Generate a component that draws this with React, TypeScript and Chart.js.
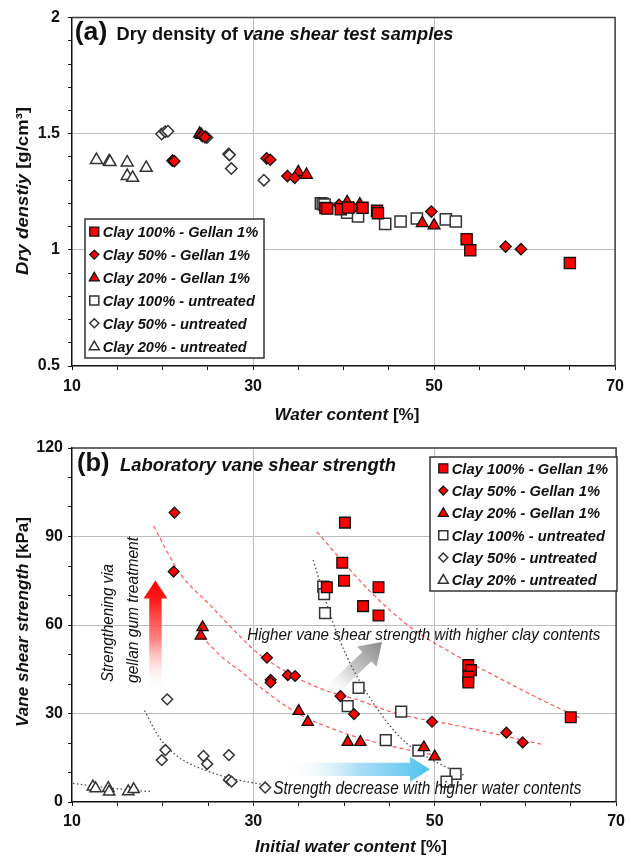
import React, { useEffect, useRef } from 'react';
import { Chart, registerables } from 'chart.js';

Chart.register(...registerables);

type Pt = [number, number];

// ---------- labels ----------
const seriesLabels = [
  'Clay 100% - Gellan 1%',
  'Clay 50% - Gellan 1%',
  'Clay 20% - Gellan 1%',
  'Clay 100% - untreated',
  'Clay 50% - untreated',
  'Clay 20% - untreated',
];
const waterTicks = [10, 30, 50, 70];
const densityTicks = [0.5, 1, 1.5, 2];
const strengthTicks = [0, 30, 60, 90, 120];

// ---------- (a) water content [%] vs dry density [g/cm3] ----------
const densClay100Gellan: Pt[] = [[38.0, 1.18], [38.2, 1.178], [39.7, 1.175], [40.5, 1.182], [42.1, 1.181], [43.7, 1.168], [43.8, 1.158], [53.6, 1.046], [54.0, 0.998], [65.0, 0.943]];
const densClay50Gellan: Pt[] = [[21.1, 1.384], [21.3, 1.382], [24.4, 1.49], [24.7, 1.485], [31.5, 1.394], [31.9, 1.388], [33.8, 1.318], [34.6, 1.31], [39.5, 1.194], [41.1, 1.181], [49.7, 1.165], [57.9, 1.014], [59.6, 1.003]];
const densClay20Gellan: Pt[] = [[24.1, 1.5], [24.3, 1.495], [35.0, 1.334], [35.9, 1.323], [40.4, 1.205], [41.8, 1.195], [48.7, 1.115], [50.0, 1.105]];
const densClay100Untreated: Pt[] = [[37.5, 1.2], [37.7, 1.198], [37.9, 1.195], [40.4, 1.16], [41.6, 1.144], [44.6, 1.112], [46.3, 1.122], [48.1, 1.135], [51.3, 1.131], [52.4, 1.122]];
const densClay50Untreated: Pt[] = [[19.9, 1.499], [20.3, 1.509], [20.6, 1.511], [24.7, 1.487], [24.9, 1.484], [27.3, 1.413], [27.4, 1.409], [27.6, 1.35], [31.2, 1.3]];
const densClay20Untreated: Pt[] = [[12.7, 1.387], [14.1, 1.381], [14.2, 1.378], [16.1, 1.376], [16.1, 1.318], [16.7, 1.31], [18.2, 1.353]];

// ---------- (b) initial water content [%] vs vane shear strength [kPa] ----------
const vaneClay100Gellan: Pt[] = [[38.1, 72.8], [39.8, 81.1], [40.0, 75.0], [40.1, 94.7], [42.1, 66.4], [43.8, 72.8], [43.8, 63.2], [53.7, 46.4], [54.0, 44.7], [53.7, 42.5], [53.7, 40.5], [65.0, 28.7]];
const vaneClay50Gellan: Pt[] = [[21.3, 98.1], [21.2, 78.1], [31.5, 48.9], [31.9, 41.4], [31.9, 40.5], [33.8, 43.0], [34.6, 42.7], [39.6, 35.9], [41.1, 29.8], [49.7, 27.2], [57.9, 23.5], [59.7, 20.2]];
const vaneClay20Gellan: Pt[] = [[24.4, 59.2], [24.2, 56.3], [35.0, 30.8], [36.0, 27.1], [40.4, 20.3], [41.8, 20.3], [48.8, 18.5], [50.0, 15.4]];
const vaneClay100Untreated: Pt[] = [[37.7, 73.0], [37.8, 70.5], [37.9, 64.0], [41.6, 38.7], [40.4, 32.5], [46.3, 30.6], [44.6, 21.0], [48.2, 17.4], [52.3, 9.5], [51.3, 6.9]];
const vaneClay50Untreated: Pt[] = [[20.5, 34.8], [20.3, 17.6], [19.9, 14.2], [24.5, 15.6], [24.9, 12.9], [27.3, 15.9], [27.3, 7.5], [27.6, 6.9], [31.3, 4.9]];
const vaneClay20Untreated: Pt[] = [[12.3, 5.2], [12.6, 4.6], [14.0, 4.7], [14.1, 3.5], [16.2, 3.6], [16.8, 4.3]];

// ---------- (b) trend curves ----------
const trendClay100Gellan: Pt[] = [[37.0, 91.6], [40.0, 81.0], [43.0, 71.0], [47.0, 60.0], [51.3, 51.5], [56.8, 42.5], [62.2, 34.0], [66.1, 28.4]];
const trendClay50Gellan: Pt[] = [[19.0, 93.6], [21.8, 78.0], [25.4, 66.2], [28.9, 55.0], [30.5, 50.4], [34.9, 42.0], [37.8, 38.0], [41.5, 34.6], [45.8, 30.0], [53.1, 25.5], [61.7, 19.6]];
const trendClay20Gellan: Pt[] = [[24.3, 56.0], [26.6, 49.0], [28.9, 43.6], [30.5, 39.5], [34.9, 30.0], [38.9, 24.6], [42.2, 21.3], [45.5, 18.7], [49.8, 16.0]];
const trendClay100Untreated: Pt[] = [[36.6, 82.0], [38.0, 68.0], [39.5, 55.0], [41.0, 45.0], [42.5, 37.0], [44.5, 28.0], [46.5, 21.0], [49.0, 15.5], [51.5, 11.5], [53.3, 9.0]];
const trendClay50Untreated: Pt[] = [[18.0, 31.0], [19.6, 22.0], [21.4, 16.0], [23.3, 12.5], [25.1, 10.3], [26.9, 8.5], [29.1, 7.0], [31.3, 5.8]];
const trendClay20Untreated: Pt[] = [[10.1, 6.3], [14.0, 4.8], [18.7, 3.5]];

// ---------- styling ----------
const FONT = '"Liberation Sans", Arial, sans-serif';
const SHAPES = ['rect', 'rectRot', 'triangle'];
const styleOf = (i: number) => ({
  shape: SHAPES[i % 3],
  fill: i < 3 ? '#ff0000' : '#ffffff',
  stroke: i < 3 ? '#111111' : '#333333',
  lw: i < 3 ? 1.3 : 1.5,
});

const near = (v: number, arr: number[]) => arr.some((t) => Math.abs(t - v) < 1e-6);

function markerDatasets(series: Pt[][], radii: number[]) {
  return series.map((pts, i) => {
    const s = styleOf(i);
    return {
      label: seriesLabels[i],
      data: pts.map(([x, y]) => ({ x, y })),
      pointStyle: s.shape,
      pointRadius: radii[i % 3],
      backgroundColor: s.fill,
      borderColor: s.stroke,
      pointBorderWidth: s.lw,
      showLine: false,
      order: i,
    };
  });
}

function trendDataset(pts: Pt[], red: boolean) {
  return {
    label: '',
    data: pts.map(([x, y]) => ({ x, y })),
    showLine: true,
    pointRadius: 0,
    borderColor: red ? '#ff5555' : '#4a4a4a',
    borderWidth: red ? 1.2 : 1.3,
    borderDash: red ? [4, 3] : [1.5, 2.5],
    fill: false,
    cubicInterpolationMode: 'monotone',
    order: 20,
  };
}

type Part = { t: string; f: string };
function drawParts(ctx: CanvasRenderingContext2D, parts: Part[], x: number, y: number, width: number, rotate = false, color = '#111') {
  ctx.save();
  let nat = 0;
  for (const p of parts) {
    ctx.font = p.f;
    nat += ctx.measureText(p.t).width;
  }
  const sx = width / nat;
  ctx.translate(x, y);
  if (rotate) ctx.rotate(-Math.PI / 2);
  ctx.scale(sx, 1);
  ctx.textBaseline = 'alphabetic';
  ctx.textAlign = 'left';
  ctx.fillStyle = color;
  let cx = 0;
  for (const p of parts) {
    ctx.font = p.f;
    ctx.fillText(p.t, cx, 0);
    cx += ctx.measureText(p.t).width;
  }
  ctx.restore();
}

function drawMarker(ctx: CanvasRenderingContext2D, shape: string, x: number, y: number, s: number, fill: string, stroke: string, lw: number) {
  ctx.beginPath();
  if (shape === 'rect') {
    ctx.rect(x - s / 2, y - s / 2, s, s);
  } else if (shape === 'rectRot') {
    ctx.moveTo(x, y - s / 2);
    ctx.lineTo(x + s / 2, y);
    ctx.lineTo(x, y + s / 2);
    ctx.lineTo(x - s / 2, y);
    ctx.closePath();
  } else {
    const h = s * 0.866;
    ctx.moveTo(x, y - h * 0.6);
    ctx.lineTo(x + s / 2, y + h * 0.4);
    ctx.lineTo(x - s / 2, y + h * 0.4);
    ctx.closePath();
  }
  ctx.fillStyle = fill;
  ctx.fill();
  ctx.lineWidth = lw;
  ctx.strokeStyle = stroke;
  ctx.stroke();
}

function drawLegend(ctx: CanvasRenderingContext2D, box: { l: number; t: number; r: number; b: number }, rowY: number, step: number, markX: number, textX: number, textW: number) {
  ctx.save();
  ctx.fillStyle = '#ffffff';
  ctx.fillRect(box.l, box.t, box.r - box.l, box.b - box.t);
  ctx.lineWidth = 1.5;
  ctx.strokeStyle = '#333333';
  ctx.strokeRect(box.l, box.t, box.r - box.l, box.b - box.t);
  const f = `italic bold 15px ${FONT}`;
  ctx.font = f;
  const sx = textW / ctx.measureText(seriesLabels[0]).width;
  seriesLabels.forEach((lab, i) => {
    const s = styleOf(i);
    const y = rowY + i * step;
    const size = s.shape === 'triangle' ? 10 : 9;
    drawMarker(ctx, s.shape, markX, y, size, s.fill, s.stroke, s.lw);
    ctx.save();
    ctx.translate(textX, y + 5.3);
    ctx.scale(sx, 1);
    ctx.font = f;
    ctx.fillStyle = '#111';
    ctx.textBaseline = 'alphabetic';
    ctx.fillText(lab, 0, 0);
    ctx.restore();
  });
  ctx.restore();
}

function drawFrame(chart: any) {
  const { ctx, chartArea: a } = chart;
  ctx.save();
  ctx.strokeStyle = '#3a3a3a';
  ctx.lineWidth = 1.5;
  ctx.beginPath();
  ctx.moveTo(a.left, a.top);
  ctx.lineTo(a.right, a.top);
  ctx.lineTo(a.right, a.bottom);
  ctx.stroke();
  ctx.restore();
}

function gradArrow(ctx: CanvasRenderingContext2D, x0: number, y0: number, x1: number, y1: number, shaftW: number, headW: number, headL: number, stops: [number, string][]) {
  const dx = x1 - x0;
  const dy = y1 - y0;
  const L = Math.hypot(dx, dy);
  const ang = Math.atan2(dy, dx);
  ctx.save();
  ctx.translate(x0, y0);
  ctx.rotate(ang);
  const g = ctx.createLinearGradient(0, 0, L, 0);
  stops.forEach(([o, c]) => g.addColorStop(o, c));
  ctx.beginPath();
  ctx.moveTo(0, -shaftW / 2);
  ctx.lineTo(L - headL, -shaftW / 2);
  ctx.lineTo(L - headL, -headW / 2);
  ctx.lineTo(L, 0);
  ctx.lineTo(L - headL, headW / 2);
  ctx.lineTo(L - headL, shaftW / 2);
  ctx.lineTo(0, shaftW / 2);
  ctx.closePath();
  ctx.fillStyle = g;
  ctx.fill();
  ctx.restore();
}

function xScale(height: number, pad: number) {
  return {
    type: 'linear',
    min: 10,
    max: 70,
    afterFit: (s: any) => {
      s.height = height;
    },
    ticks: {
      stepSize: 5,
      autoSkip: false,
      maxRotation: 0,
      padding: pad,
      color: '#111',
      font: { family: FONT, size: 16, weight: 'bold' },
      callback: (v: number) => (near(v, waterTicks) ? String(v) : ''),
    },
    grid: {
      color: (c: any) => (c.tick && near(c.tick.value, [30, 50]) ? '#bdbdbd' : 'rgba(0,0,0,0)'),
      lineWidth: 1,
      tickColor: '#111',
      tickLength: 4,
      tickWidth: 1,
    },
    border: { display: true, color: '#111', width: 1.5 },
  };
}

function yScale(min: number, max: number, step: number, labels: number[], grid: number[], pad: number) {
  return {
    type: 'linear',
    min,
    max,
    afterFit: (s: any) => {
      s.width = 72;
    },
    ticks: {
      stepSize: step,
      autoSkip: false,
      padding: pad,
      color: '#111',
      font: { family: FONT, size: 16, weight: 'bold' },
      callback: (v: number) => (near(v, labels) ? String(v) : ''),
    },
    grid: {
      color: (c: any) => (c.tick && near(c.tick.value, grid) ? '#bdbdbd' : 'rgba(0,0,0,0)'),
      lineWidth: 1,
      tickColor: '#111',
      tickLength: 4,
      tickWidth: 1,
    },
    border: { display: true, color: '#111', width: 1.5 },
  };
}

const BI = (s: number) => `italic bold ${s}px ${FONT}`;
const B = (s: number) => `bold ${s}px ${FONT}`;
const I = (s: number) => `italic ${s}px ${FONT}`;

const decorA = {
  id: 'decorA',
  beforeDatasetsDraw(chart: any) {
    drawFrame(chart);
  },
  afterDatasetsDraw(chart: any) {
    const ctx: CanvasRenderingContext2D = chart.ctx;
    drawParts(ctx, [{ t: '(a)', f: B(25) }], 74.7, 39.5, 32.6);
    drawParts(ctx, [{ t: 'Dry density of ', f: B(18) }, { t: 'vane shear test samples', f: BI(18) }], 116.5, 39.5, 337);
    drawParts(ctx, [{ t: 'Water content ', f: BI(17) }, { t: '[%]', f: B(17) }], 347 - 72.5, 420, 145);
    drawParts(ctx, [{ t: 'Dry denstiy ', f: BI(17) }, { t: '[g/cm³]', f: B(17) }], 28, 191 + 84, 168, true);
    drawLegend(ctx, { l: 85, t: 219, r: 264, b: 358 }, 231.7, 22.9, 94.3, 102.7, 155.5);
  },
};

const decorB = {
  id: 'decorB',
  beforeDatasetsDraw(chart: any) {
    const ctx: CanvasRenderingContext2D = chart.ctx;
    drawFrame(chart);
    gradArrow(ctx, 155.5, 258, 155.4, 150.5, 12.4, 24, 18, [
      [0, 'rgba(255,235,220,0)'],
      [0.45, 'rgba(255,110,110,0.85)'],
      [0.8, '#ff2020'],
      [1, '#ff0000'],
    ]);
    gradArrow(ctx, 286, 339.3, 430, 339.3, 13.3, 25, 20, [
      [0, 'rgba(255,255,255,0)'],
      [0.5, 'rgba(160,218,245,0.9)'],
      [1, '#4ec2f0'],
    ]);
    gradArrow(ctx, 328, 264, 382, 212, 13, 28, 21, [
      [0, 'rgba(255,255,255,0)'],
      [0.5, 'rgba(190,190,190,0.9)'],
      [1, '#8a8a8a'],
    ]);
  },
  afterDatasetsDraw(chart: any) {
    const ctx: CanvasRenderingContext2D = chart.ctx;
    drawParts(ctx, [{ t: '(b)', f: B(25) }], 77, 41, 32.5);
    drawParts(ctx, [{ t: 'Laboratory vane shear strength', f: BI(18) }], 120, 41, 276);
    drawParts(ctx, [{ t: 'Initial water content ', f: BI(17) }, { t: '[%]', f: B(17) }], 255, 422, 192);
    drawParts(ctx, [{ t: 'Vane shear strength ', f: BI(17) }, { t: '[kPa]', f: B(17) }], 28, 192 + 105, 210, true);
    drawParts(ctx, [{ t: 'Higher vane shear strength with higher clay contents', f: I(17) }], 247.3, 210, 353);
    drawParts(ctx, [{ t: 'Strength decrease with higher water contents', f: I(19) }], 273.3, 363.5, 308);
    drawParts(ctx, [{ t: 'Strengthening via', f: I(17) }], 112.5, 252, 118, true);
    drawParts(ctx, [{ t: 'gellan gum treatment', f: I(17) }], 137.5, 253, 146, true);
    drawLegend(ctx, { l: 430, t: 27, r: 617, b: 161 }, 38.3, 22.3, 443.3, 451.7, 156.5);
  },
};

function configA(): any {
  return {
    type: 'scatter',
    data: {
      datasets: markerDatasets(
        [densClay100Gellan, densClay50Gellan, densClay20Gellan, densClay100Untreated, densClay50Untreated, densClay20Untreated],
        [7.9, 5.7, 6.9]
      ),
    },
    options: {
      animation: false,
      responsive: false,
      maintainAspectRatio: false,
      layout: { padding: { left: 0, right: 10, top: 16.5, bottom: 0 } },
      plugins: { legend: { display: false }, tooltip: { enabled: false }, title: { display: false } },
      scales: {
        x: xScale(64, 7),
        y: yScale(0.5, 2, 0.1, densityTicks, [1, 1.5], 8),
      },
    },
    plugins: [decorA],
  };
}

function configB(): any {
  return {
    type: 'scatter',
    data: {
      datasets: [
        ...markerDatasets(
          [vaneClay100Gellan, vaneClay50Gellan, vaneClay20Gellan, vaneClay100Untreated, vaneClay50Untreated, vaneClay20Untreated],
          [7.6, 5.4, 6.5]
        ),
        trendDataset(trendClay100Gellan, true),
        trendDataset(trendClay50Gellan, true),
        trendDataset(trendClay20Gellan, true),
        trendDataset(trendClay100Untreated, false),
        trendDataset(trendClay50Untreated, false),
        trendDataset(trendClay20Untreated, false),
      ],
    },
    options: {
      animation: false,
      responsive: false,
      maintainAspectRatio: false,
      layout: { padding: { left: 0, right: 10, top: 18, bottom: 0 } },
      plugins: { legend: { display: false }, tooltip: { enabled: false }, title: { display: false } },
      scales: {
        x: xScale(55, 6),
        y: yScale(0, 120, 10, strengthTicks, [30, 60, 90], 5),
      },
    },
    plugins: [decorB],
  };
}

export default function App() {
  const refA = useRef<HTMLCanvasElement>(null);
  const refB = useRef<HTMLCanvasElement>(null);
  useEffect(() => {
    document.body.style.margin = '0';
    const a = new Chart(refA.current as HTMLCanvasElement, configA());
    const b = new Chart(refB.current as HTMLCanvasElement, configB());
    return () => {
      a.destroy();
      b.destroy();
    };
  }, []);
  return (
    <div style={{ width: 631, height: 857, position: 'relative', background: '#ffffff' }}>
      <canvas ref={refA} width={631} height={430} style={{ position: 'absolute', left: 0, top: 0, width: 631, height: 430 }} />
      <canvas ref={refB} width={631} height={427} style={{ position: 'absolute', left: 0, top: 430, width: 631, height: 427 }} />
    </div>
  );
}
